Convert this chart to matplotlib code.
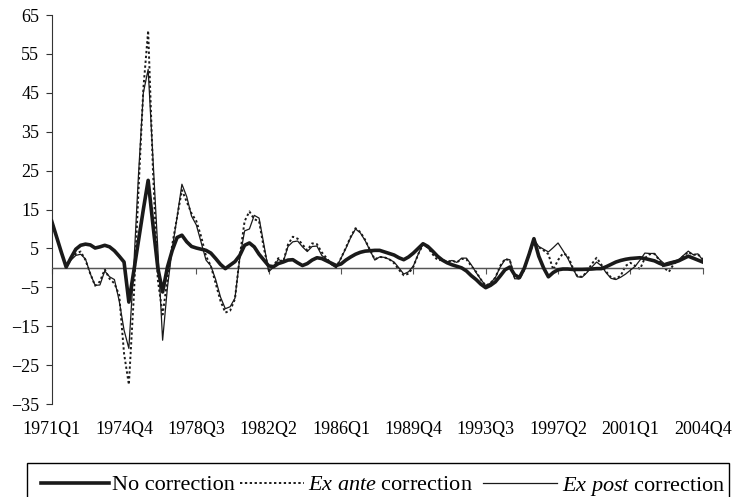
import matplotlib
matplotlib.use("Agg")
import matplotlib.pyplot as plt
import numpy as np
from matplotlib.lines import Line2D
from matplotlib.patches import Rectangle

plt.rcParams["font.family"] = "Liberation Serif"
plt.rcParams["mathtext.fontset"] = "custom"
plt.rcParams["mathtext.rm"] = "Liberation Serif"
plt.rcParams["mathtext.it"] = "Liberation Serif:italic"

# quarterly series, 1971Q1 .. 2004Q4 (136 quarters)
no_correction = [
    12.0, 8.0, 4.0, 0.2, 2.6, 4.8, 5.8, 6.1, 5.9, 5.1,
    5.4, 5.8, 5.4, 4.4, 3.0, 1.5, -8.8, -1.0, 7.0, 15.0,
    22.5, 11.0, 0.0, -6.2, 0.2, 4.5, 7.8, 8.4, 6.7, 5.5,
    5.1, 4.8, 4.5, 3.8, 2.4, 0.9, -0.2, 0.7, 1.6, 3.2,
    5.8, 6.4, 5.4, 3.5, 2.0, 0.5, 0.3, 1.1, 1.5, 2.0,
    2.1, 1.3, 0.6, 1.1, 2.0, 2.6, 2.4, 1.8, 1.2, 0.6,
    1.0, 2.0, 2.8, 3.5, 4.0, 4.3, 4.4, 4.5, 4.5, 4.1,
    3.7, 3.3, 2.6, 2.1, 2.8, 3.8, 5.0, 6.2, 5.5, 4.3,
    3.0, 2.0, 1.3, 0.8, 0.4, 0.0, -0.8, -2.0, -3.0, -4.2,
    -5.1, -4.5, -3.6, -2.1, -0.5, 0.2, -1.8, -2.5, -0.1, 3.5,
    7.5, 3.0, 0.0, -2.3, -1.2, -0.5, -0.3, -0.3, -0.4, -0.4,
    -0.4, -0.35, -0.3, -0.2, -0.2, 0.3, 0.9, 1.5, 1.9, 2.2,
    2.4, 2.5, 2.6, 2.4, 2.1, 1.8, 1.2, 0.7, 1.0, 1.4,
    1.8, 2.4, 3.0, 2.5, 2.0, 1.5,
]
ex_ante = [
    12.0, 8.0, 4.0, 0.2, 2.5, 3.6, 4.2, 2.0, -1.5, -4.6,
    -3.5, -0.4, -2.8, -4.0, -7.0, -22.0, -30.0, -8.0, 20.0, 46.0,
    61.0, 25.0, -3.0, -12.0, -3.0, 6.0, 13.0, 20.0, 17.0, 14.0,
    12.0, 8.0, 3.0, 0.5, -4.0, -8.5, -11.5, -11.0, -8.0, 3.0,
    12.0, 14.5, 12.5, 12.0, 5.0, -0.5, 0.5, 2.5, 1.5, 6.0,
    8.0, 7.5, 6.0, 4.5, 6.3, 6.1, 4.0, 2.5, 1.0, 0.3,
    2.5, 5.2, 8.0, 10.2, 9.2, 7.2, 4.6, 2.2, 2.8, 2.7,
    2.2, 1.2, -0.5, -1.9, -1.5, 0.3, 3.5, 6.0, 5.2, 3.5,
    2.0, 2.0, 1.5, 1.9, 1.4, 2.3, 2.2, 0.5, -1.0, -3.0,
    -4.6, -3.9, -2.5, 0.5, 2.3, 2.0, -2.5, -2.8, -0.5, 3.5,
    6.5, 5.3, 4.5, 3.5, -0.5, 2.0, 3.7, 3.2, 0.2, -2.2,
    -2.3, -1.0, 1.0, 2.6, 0.8, -1.0, -2.5, -2.8, -2.0, 0.5,
    1.3, 0.5, -0.3, 2.5, 3.5, 3.6, 2.0, 0.0, -1.0, 1.0,
    2.0, 3.0, 4.1, 3.3, 3.5, 2.2,
]
ex_post = [
    12.0, 8.0, 4.0, 0.2, 2.0, 3.2, 3.5, 2.3, -1.5, -4.5,
    -4.4, -0.8, -2.3, -3.0, -8.5, -16.0, -20.7, 0.0, 24.0, 45.0,
    51.0, 28.0, 5.0, -18.6, -5.0, 5.0, 13.0, 21.5, 18.3, 13.3,
    11.0, 6.5, 2.0, 0.5, -3.0, -7.5, -10.5, -10.0, -7.8, 2.5,
    9.5, 10.0, 13.5, 12.8, 6.0, -1.0, 0.2, 2.2, 1.5, 5.5,
    6.7, 6.9, 5.4, 4.2, 5.5, 5.6, 3.2, 2.2, 0.8, 0.0,
    2.5, 5.0, 7.8, 10.0, 9.0, 7.0, 4.5, 2.0, 2.8, 2.7,
    2.2, 1.5, 0.0, -1.6, -1.0, 0.5, 3.5, 6.2, 5.3, 4.2,
    3.0, 2.2, 1.5, 1.9, 1.4, 2.5, 2.5, 0.8, -1.2, -3.0,
    -4.6, -3.9, -2.5, 0.2, 2.1, 2.1, -2.8, -2.8, -0.5, 4.0,
    7.3, 5.5, 4.8, 4.1, 5.2, 6.4, 4.5, 2.5, 0.0, -2.3,
    -2.4, -1.2, 0.2, 1.5, 0.5, -1.3, -2.7, -3.0, -2.4, -1.6,
    -0.6, 0.4, 2.0, 3.8, 3.7, 3.7, 2.2, 1.1, 1.5, 1.8,
    2.1, 3.2, 4.3, 3.4, 3.6, 2.0,
]
tick_labels = ["1971Q1", "1974Q4", "1978Q3", "1982Q2", "1986Q1",
               "1989Q4", "1993Q3", "1997Q2", "2001Q1", "2004Q4"]
y_ticks = [-35, -25, -15, -5, 5, 15, 25, 35, 45, 55, 65]

x = np.arange(len(no_correction))
tick_pos = x[::15]
ink = "#1a1a1a"
sty_none = dict(color=ink, lw=2.6, solid_joinstyle="round")
sty_ante = dict(color=ink, lw=1.4, dashes=(1.2, 1.3))
sty_post = dict(color=ink, lw=0.9)

W, H = 744, 497
fig = plt.figure(figsize=(W / 100, H / 100), dpi=100)
ax = fig.add_axes([0.0695, 0.1871, 0.875, 0.7827])

ax.axhline(0, color="#555555", lw=1.0, zorder=1)
ax.plot(x, ex_ante, zorder=2, **sty_ante)
ax.plot(x, ex_post, zorder=3, **sty_post)
ax.plot(x, no_correction, zorder=4, **sty_none)

ax.set_xlim(0, len(x) - 1)
ax.set_ylim(-35, 65)
ax.set_yticks(y_ticks)
ax.tick_params(axis="y", direction="out", length=4, pad=5, labelsize=13,
               color="#333333")

# x axis sits on the zero line, labels below the plot
for s in ("top", "right"):
    ax.spines[s].set_visible(False)
ax.spines["left"].set_color("#333333")
ax.spines["bottom"].set_position(("data", 0))
ax.spines["bottom"].set_color("#555555")
ax.set_xticks(tick_pos)
ax.tick_params(axis="x", direction="out", length=4, color="#555555",
               labelbottom=False)

sec = ax.secondary_xaxis(0)
sec.set_xticks(tick_pos, tick_labels)
sec.tick_params(length=0, pad=12, labelsize=13)
sec.spines["bottom"].set_visible(False)

# legend box drawn by hand (Excel-style spacing, runs off the bottom edge)
def fx(px):
    return px / W

def fy(py):
    return 1 - py / H

fig.add_artist(Rectangle((fx(27), fy(505)), fx(729) - fx(27), fy(463) - fy(505),
                         transform=fig.transFigure, fill=False,
                         edgecolor="black", lw=1.0))
entries = [
    (41, 109, 112, sty_none, "No correction"),
    (240, 304, 308, sty_ante, r"$\it{Ex\ ante}$ correction"),
    (483, 557, 562, sty_post, r"$\it{Ex\ post}$ correction"),
]
ly = fy(483)
for x0, x1, tx, sty, lab in entries:
    fig.add_artist(Line2D([fx(x0), fx(x1)], [ly, ly],
                          transform=fig.transFigure, **sty))
    fig.text(fx(tx), ly, lab, fontsize=16, va="center_baseline", ha="left")

fig.savefig("out.png", dpi=100)
